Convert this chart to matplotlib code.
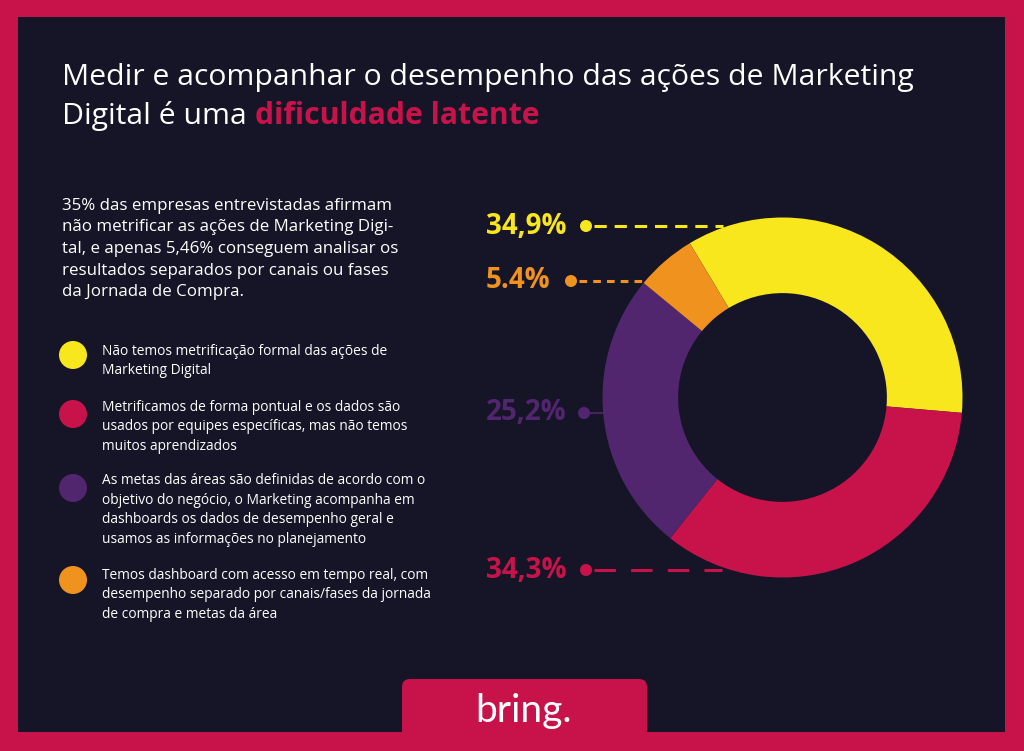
import matplotlib
matplotlib.use("Agg")
import matplotlib.pyplot as plt
from matplotlib.patches import Rectangle, FancyBboxPatch, Circle

# ---- data ----
categories = [
    "Não temos metrificação formal das ações de\nMarketing Digital",
    "Metrificamos de forma pontual e os dados são\nusados por equipes específicas, mas não temos\nmuitos aprendizados",
    "As metas das áreas são definidas de acordo com o\nobjetivo do negócio, o Marketing acompanha em\ndashboards os dados de desempenho geral e\nusamos as informações no planejamento",
    "Temos dashboard com acesso em tempo real, com\ndesempenho separado por canais/fases da jornada\nde compra e metas da área",
]
values = [34.9, 34.3, 25.2, 5.4]
value_labels = ["34,9%", "34,3%", "25,2%", "5.4%"]
colors = ["#F9E71E", "#C8134A", "#52266E", "#F0921E"]

title1 = "Medir e acompanhar o desempenho das ações de Marketing"
title2a = "Digital é uma "
title2b = "dificuldade latente"
paragraph = ("35% das empresas entrevistadas afirmam\n"
             "não metrificar as ações de Marketing Digi-\n"
             "tal, e apenas 5,46% conseguem analisar os\n"
             "resultados separados por canais ou fases\n"
             "da Jornada de Compra.")

BG = "#161528"
CRIMSON = "#C8134A"
FONT = "Open Sans"

W, H = 1024, 751
fig = plt.figure(figsize=(W / 100, H / 100), dpi=100)
fig.patch.set_facecolor(CRIMSON)

ax = fig.add_axes([0, 0, 1, 1])
ax.set_xlim(0, W)
ax.set_ylim(H, 0)
ax.axis("off")

# dark panel
ax.add_patch(Rectangle((18, 17), 987, 715, facecolor=BG, edgecolor="none"))

# title
TS = 21.7
t1 = ax.text(62, 78, title1, color="white", fontsize=TS, family=FONT,
             va="center", ha="left")
t2 = ax.text(62, 116, title2a, color="white", fontsize=TS, family=FONT,
             va="center", ha="left")
fig.canvas.draw()
r = fig.canvas.get_renderer()
bb = t2.get_window_extent(r)
x2 = ax.transData.inverted().transform((bb.x1, bb.y0))[0]
ax.text(x2, 116, title2b, color=CRIMSON, fontsize=TS, family=FONT,
        fontweight="bold", va="center", ha="left")

# paragraph
ax.text(62, 249, paragraph, color="white", fontsize=12.2, family=FONT,
        va="center", ha="left", linespacing=1.46)

# legend
leg_y = [355, 414, 488, 580]
text_y = [361, 427, 510, 595]
for c, lab, y, ty in zip(colors, categories, leg_y, text_y):
    ax.add_patch(Circle((73, y), 14, facecolor=c, edgecolor="none"))
    ax.text(102, ty, lab, color="white", fontsize=9.9, family=FONT,
            va="center", ha="left", linespacing=1.42)

# donut
cx, cy, R = 782.5, 397.5, 180
pax = fig.add_axes([(cx - R) / W, (H - cy - R) / H, 2 * R / W, 2 * R / H])
wedges, _ = pax.pie(values, colors=colors, startangle=121, counterclock=False,
                    radius=1.0, wedgeprops=dict(width=0.42, edgecolor="none"))
pax.set_xlim(-1, 1)
pax.set_ylim(-1, 1)
pax.set_aspect("auto")
pax.axis("off")

# value labels with leader lines
lab_cfg = [
    # text x, y, dot x, line end x, dashes
    (486, 226, 586, 723, (4, 2.6)),   # yellow
    (486, 570, 586, 722, (7, 5)),     # crimson
    (486, 413, 584, 603, None),       # purple
    (486, 281, 571, 647, (2.5, 2)),   # orange
]
for c, lab, (tx, ty, dx, lx, dash) in zip(colors, value_labels, lab_cfg):
    ax.text(tx, ty, lab, color=c, fontsize=20, family=FONT,
            fontweight="bold", va="center", ha="left")
    ax.add_patch(Circle((dx, ty), 6, facecolor=c, edgecolor="none"))
    if dash is None:
        ax.plot([dx, lx], [ty, ty], color=c, lw=1.2)
    else:
        ax.plot([dx + 8, lx], [ty, ty], color=c, lw=2.2,
                linestyle=(0, dash), solid_capstyle="butt")

# logo tab
ax.add_patch(FancyBboxPatch((402, 679), 245, 80,
                            boxstyle="round,pad=0,rounding_size=8",
                            facecolor=CRIMSON, edgecolor="none"))
ax.text(523, 711, "bring.", color="white", fontsize=28, family="Lato",
        va="center", ha="center")

fig.savefig("out.png", dpi=100, facecolor=fig.get_facecolor())
